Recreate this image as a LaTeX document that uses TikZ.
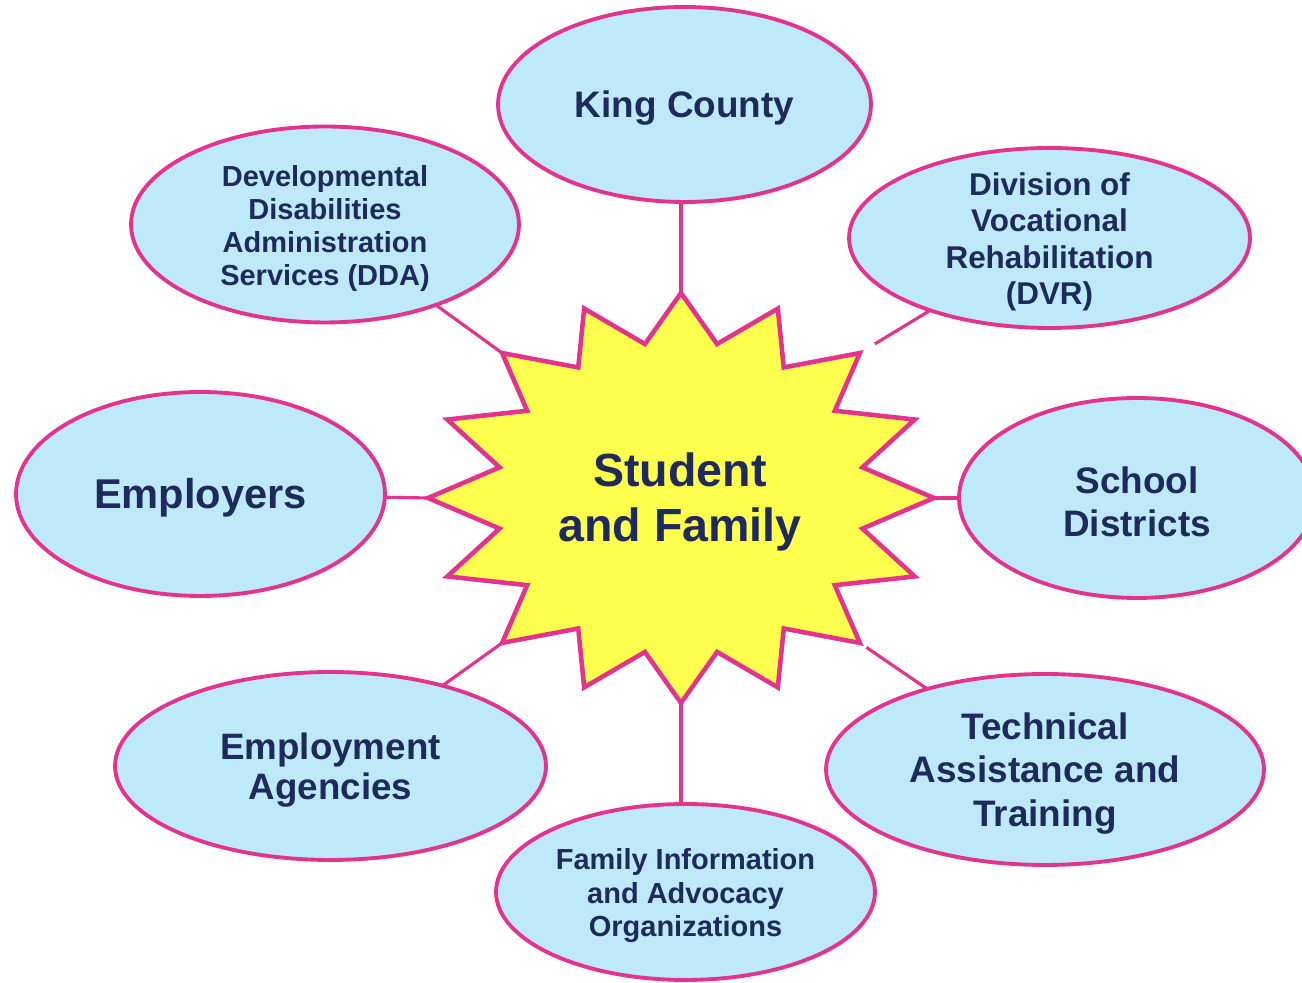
\documentclass[tikz,border=0pt]{standalone}
\usepackage{fontspec}
\setmainfont{Liberation Sans}
\usepackage{tikz}
\usetikzlibrary{shapes.geometric}
\definecolor{bubblefill}{HTML}{BDE9F8}
\definecolor{rim}{HTML}{E2348F}
\definecolor{burst}{HTML}{FFFF4D}
\definecolor{ink}{HTML}{1F2A5C}
\tikzstyle{Bubble}=[ellipse, draw=rim, fill=bubblefill, line width=2.2pt, inner sep=0pt, outer sep=0pt]
\tikzstyle{Label}=[text=ink, align=center, inner sep=0pt, yshift=-2.2pt]
\tikzstyle{Link}=[draw=rim, line width=1.8pt]
\newcommand{\fs}[2]{\fontsize{#1}{#2}\selectfont\bfseries}

\begin{document}
\begin{tikzpicture}[x=0.02cm, y=0.02cm]
    \useasboundingbox (0,0) rectangle (1302,983);
    % corners of the burst
    \foreach \k in {0,...,15} {
        \coordinate (tip\k) at ({681+253*cos(90+22.5*\k)}, {485+205*sin(90+22.5*\k)});
        \coordinate (dip\k) at ({681+185*cos(101.25+22.5*\k)}, {485+157*sin(101.25+22.5*\k)});
    }
    \path
    (684.5,878.5) node[Bubble, minimum width=7.46cm, minimum height=3.90cm] (king) {}
    (325,758.5) node[Bubble, minimum width=7.76cm, minimum height=3.92cm] (dda) {}
    (1049.5,745) node[Bubble, minimum width=8.02cm, minimum height=3.60cm] (dvr) {}
    (200.5,489) node[Bubble, minimum width=7.38cm, minimum height=4.08cm] (employers) {}
    (1137,485) node[Bubble, minimum width=7.12cm, minimum height=4.00cm] (school) {}
    (330.5,217) node[Bubble, minimum width=8.62cm, minimum height=3.76cm] (agencies) {}
    (685.5,91) node[Bubble, minimum width=7.58cm, minimum height=3.52cm] (family) {}
    (1045,213.5) node[Bubble, minimum width=8.76cm, minimum height=3.82cm] (training) {};

    \draw[Link] (king.south -| tip0) -- (tip0);
    \draw[Link] (dda) -- (tip2);
    \draw[Link] (employers) -- (tip4);
    \draw[Link] (agencies) -- (tip6);
    \draw[Link] (family.north -| tip8) -- (tip8);
    \draw[Link, shorten >=4.5pt] (training) -- (tip10);
    \draw[Link] (school) -- (tip12);
    \draw[Link, shorten >=10pt] (dvr) -- (tip14);

    \draw[draw=rim, fill=burst, line width=2.6pt, line join=miter]
        (tip0) \foreach \k in {0,...,15} { -- (tip\k) -- (dip\k) } -- cycle;

    \path (680,485) node[Label, font=\fs{26.5}{31}] (hub) {Student\\and Family};
    \path (king) node[Label, font=\fs{21}{25}] (kingtext) {King County}
    (dda) node[Label, font=\fs{16.5}{18.9}] (ddatext) {Developmental\\Disabilities\\Administration\\Services (DDA)}
    (dvr) node[Label, font=\fs{17.9}{20.8}] (dvrtext) {Division of\\Vocational\\Rehabilitation\\(DVR)}
    (employers) node[Label, font=\fs{23.7}{28}] (employerstext) {Employers}
    (school) node[Label, font=\fs{21}{24.4}] (schooltext) {School\\Districts}
    (agencies) node[Label, font=\fs{20.9}{22.7}] (agenciestext) {Employment\\Agencies}
    (family) node[Label, font=\fs{16.5}{19}] (familytext) {Family Information\\and Advocacy\\Organizations}
    (training) node[Label, font=\fs{21}{24.7}] (trainingtext) {Technical\\Assistance and\\Training};
\end{tikzpicture}
\end{document}
